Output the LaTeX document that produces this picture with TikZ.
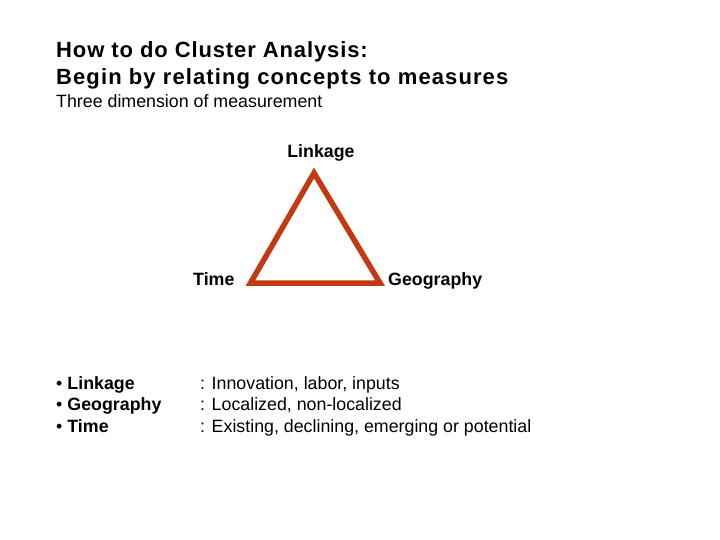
\documentclass[tikz,border=0pt]{standalone}
\usepackage{fontspec}
\setmainfont{Liberation Sans}
\definecolor{tri}{RGB}{195,58,18}
\begin{document}
\begin{tikzpicture}[x=1pt,y=-1pt,
  txt/.style={inner sep=0pt,anchor=base west,font=\fontsize{17.8}{21.5}\selectfont},
  btxt/.style={txt,font=\fontsize{17.8}{21.5}\selectfont\bfseries},
  ttl/.style={inner sep=0pt,anchor=base west,font=\fontsize{22}{28}\selectfont\bfseries\addfontfeature{LetterSpace=4}},
  edge/.style={draw=tri,line width=5.5pt,line join=miter}]
\useasboundingbox (0,0) rectangle (720,540);
\node[ttl] (t1) at (56,57.5) {How to do Cluster Analysis:};
\node[ttl,font=\fontsize{22}{28}\selectfont\bfseries\addfontfeature{LetterSpace=5}] (t2) at (56,85) {Begin by relating concepts to measures};
\node[txt] (sub) at (56,107.5) {Three dimension of measurement};
\node[btxt,anchor=base] (lk) at (321,158) {Linkage};
\node[btxt] (tm) at (193,285) {Time};
\node[btxt] (geo) at (388,285) {Geography};
\coordinate (A) at (314,173);
\coordinate (B) at (250.5,283);
\coordinate (C) at (380,283);
\draw[edge] (A) -- (B) -- (C) -- cycle;
\node[txt] (b1) at (56,389) {\textbullet\hspace{5pt}\textbf{Linkage}};
\node[txt] (b2) at (56,410.5) {\textbullet\hspace{5pt}\textbf{Geography}};
\node[txt] (b3) at (56,432) {\textbullet\hspace{5pt}\textbf{Time}};
\node[txt] (d1) at (200,389) {: Innovation, labor, inputs};
\node[txt] (d2) at (200,410.5) {: Localized, non-localized};
\node[txt] (d3) at (200,432) {: Existing, declining, emerging or potential};
\end{tikzpicture}
\end{document}
